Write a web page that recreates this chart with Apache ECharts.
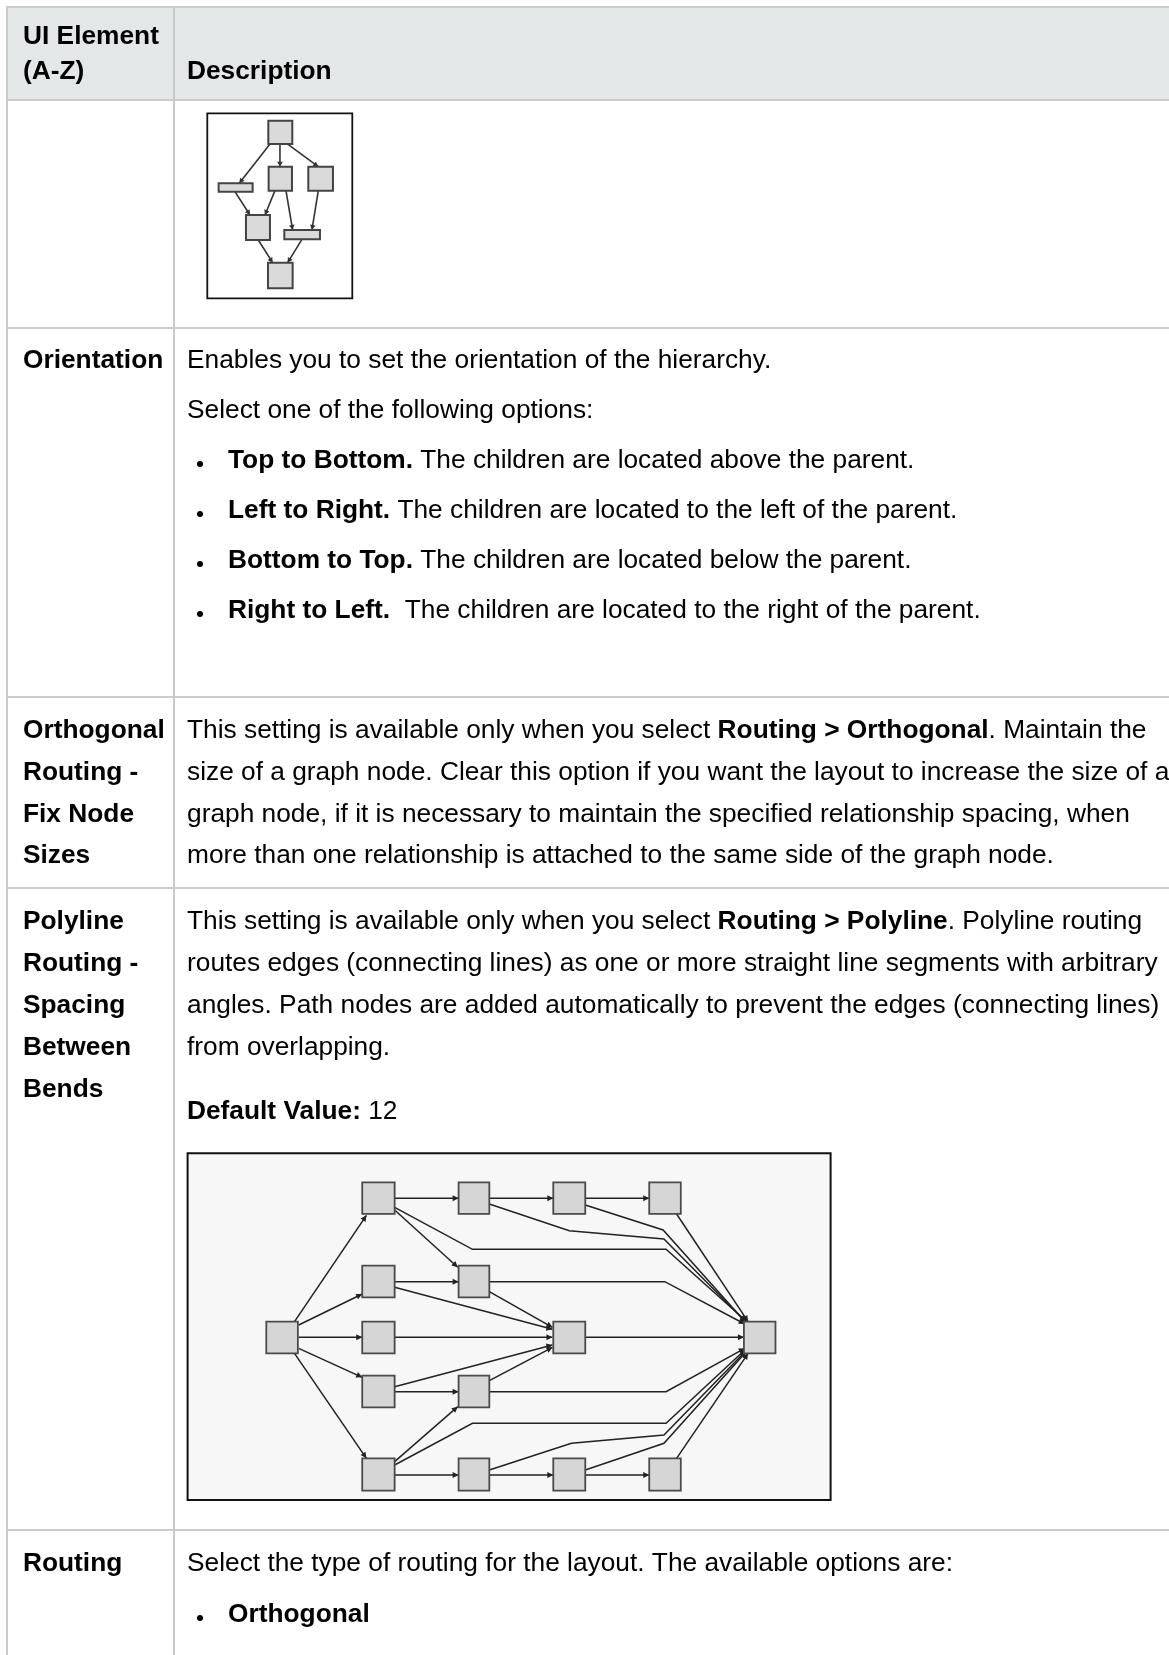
<!DOCTYPE html>
<html><head><meta charset="utf-8">
<script src="https://cdn.jsdelivr.net/npm/echarts@6/dist/echarts.min.js"></script>
<style>html,body{margin:0;padding:0;background:#fff}#c{width:1169px;height:1655px}</style>
</head><body><div id="c"></div>
<script>
// ---------------- content ----------------
const colHeaders = ['UI Element', '(A-Z)', 'Description'];
const rowLabels = [
  ['Orientation'],
  ['Orthogonal', 'Routing -', 'Fix Node', 'Sizes'],
  ['Polyline', 'Routing -', 'Spacing', 'Between', 'Bends'],
  ['Routing']
];
const orientationParas = [
  'Enables you to set the orientation of the hierarchy.',
  'Select one of the following options:'
];
const orientationBullets = [
  ['Top to Bottom.', ' The children are located above the parent.'],
  ['Left to Right.', ' The children are located to the left of the parent.'],
  ['Bottom to Top.', ' The children are located below the parent.'],
  ['Right to Left.', '  The children are located to the right of the parent.']
];
const orthogonalLines = [
  [['r', 'This setting is available only when you select '], ['b', 'Routing > Orthogonal'], ['r', '. Maintain the']],
  [['r', 'size of a graph node. Clear this option if you want the layout to increase the size of a']],
  [['r', 'graph node, if it is necessary to maintain the specified relationship spacing, when']],
  [['r', 'more than one relationship is attached to the same side of the graph node.']]
];
const polylineLines = [
  [['r', 'This setting is available only when you select '], ['b', 'Routing > Polyline'], ['r', '. Polyline routing']],
  [['r', 'routes edges (connecting lines) as one or more straight line segments with arbitrary']],
  [['r', 'angles. Path nodes are added automatically to prevent the edges (connecting lines)']],
  [['r', 'from overlapping.']]
];
const defaultValueLine = [['b', 'Default Value:'], ['r', ' 12']];
const routingParas = ['Select the type of routing for the layout. The available options are:'];
const routingBullets = ['Orthogonal'];

// ---------------- diagram 1 (hierarchy, diagram units) ----------------
// nodes: [x0, y0, x1, y1]
const hierNodes = [
  [235, 62, 307, 132],
  [86, 250, 188, 275],
  [236, 200, 306, 272],
  [355, 200, 429, 272],
  [168, 345, 240, 420],
  [283, 390, 390, 418],
  [234, 488, 308, 565]
];
const hierEdges = [
  [[240, 132], [148, 250]],
  [[270, 132], [270, 200]],
  [[292, 132], [385, 200]],
  [[135, 275], [180, 345]],
  [[255, 272], [225, 345]],
  [[288, 272], [308, 390]],
  [[385, 272], [366, 390]],
  [[205, 420], [248, 488]],
  [[336, 418], [293, 488]]
];

// ---------------- diagram 2 (polyline routing, diagram units) ----------------
const polyNodes = [
  [205, 545, 280, 640],
  [433, 127, 510, 222], [433, 377, 510, 472], [433, 545, 510, 640], [433, 707, 510, 802], [433, 955, 510, 1052],
  [662, 127, 735, 222], [662, 377, 735, 472], [662, 707, 735, 802], [662, 955, 735, 1052],
  [887, 127, 963, 222], [887, 545, 963, 640], [887, 955, 963, 1052],
  [1115, 127, 1190, 222], [1115, 955, 1190, 1052],
  [1340, 545, 1415, 640]
];
const polyEdges = [
  [[272, 545], [443, 226]],
  [[282, 555], [433, 462]],
  [[282, 592], [433, 592]],
  [[282, 625], [433, 712]],
  [[272, 640], [443, 955]],
  [[510, 175], [662, 175]],
  [[510, 210], [660, 382]],
  [[510, 202], [695, 328], [1155, 328], [1345, 543]],
  [[735, 175], [887, 175]],
  [[735, 192], [925, 272], [1150, 297], [1345, 546]],
  [[963, 175], [1115, 175]],
  [[963, 195], [1148, 270], [1345, 548]],
  [[1180, 222], [1350, 545]],
  [[510, 425], [662, 425]],
  [[510, 442], [885, 568]],
  [[735, 425], [1152, 425], [1342, 552]],
  [[735, 455], [885, 562]],
  [[510, 592], [885, 592]],
  [[963, 592], [1340, 592]],
  [[510, 755], [662, 755]],
  [[510, 740], [885, 615]],
  [[735, 722], [885, 622]],
  [[735, 755], [1155, 755], [1342, 625]],
  [[510, 965], [660, 800]],
  [[510, 975], [695, 850], [1155, 850], [1344, 628]],
  [[510, 1005], [662, 1005]],
  [[735, 1005], [887, 1005]],
  [[735, 990], [930, 910], [1150, 885], [1345, 632]],
  [[963, 1005], [1115, 1005]],
  [[963, 990], [1150, 910], [1345, 636]],
  [[1180, 955], [1350, 640]]
];

// ---------------- layout ----------------
const FONT = '"Liberation Sans", Arial, Helvetica, sans-serif';
const FS = 26.3;
const TXT = '#000';
const BORDER = '#cbcbcb';
const X0 = 7, XDIV = 174, XR = 1169, YB = 1655;
const rowTops = [7, 100, 328, 697, 888, 1530];
const LX = 23, DX = 187, BULX = 200, BTX = 228;

const rich = {
  b: { fontFamily: FONT, fontSize: FS, fontWeight: 'bold', fill: TXT, lineHeight: 30 },
  r: { fontFamily: FONT, fontSize: FS, fontWeight: 'normal', fill: TXT, lineHeight: 30 }
};
const gfx = [];
function txt(x, y, text, bold) {
  gfx.push({ type: 'text', x: x, y: y, z: 10, silent: true,
    style: { text: text, fontFamily: FONT, fontSize: FS, fontWeight: bold ? 'bold' : 'normal', fill: TXT,
      align: 'left', verticalAlign: 'middle', lineHeight: 30 } });
}
function richTxt(x, y, segs) {
  gfx.push({ type: 'text', x: x, y: y, z: 10, silent: true,
    style: { text: segs.map(s => '{' + s[0] + '|' + s[1] + '}').join(''), rich: rich,
      align: 'left', verticalAlign: 'middle', lineHeight: 30 } });
}
function bullet(y) {
  gfx.push({ type: 'circle', z: 10, silent: true, shape: { cx: BULX, cy: y + 3, r: 3 }, style: { fill: TXT } });
}

// header background
gfx.push({ type: 'rect', z: 1, silent: true, shape: { x: X0, y: rowTops[0], width: XR - X0, height: rowTops[1] - rowTops[0] }, style: { fill: '#e3e7e8' } });
// horizontal borders
rowTops.forEach(y => gfx.push({ type: 'line', z: 2, silent: true, shape: { x1: X0 - 1, y1: y, x2: XR, y2: y }, style: { stroke: BORDER, lineWidth: 2 } }));
// vertical borders
[X0, XDIV].forEach(x => gfx.push({ type: 'line', z: 2, silent: true, shape: { x1: x, y1: rowTops[0] - 1, x2: x, y2: YB }, style: { stroke: BORDER, lineWidth: 2 } }));

// header texts
txt(LX, 36.5, colHeaders[0], true);
txt(LX, 72, colHeaders[1], true);
txt(DX, 72, colHeaders[2], true);

// Orientation row
txt(LX, 361, rowLabels[0][0], true);
orientationParas.forEach((t, i) => txt(DX, 361 + 50 * i, t, false));
orientationBullets.forEach((b, i) => { const y = 461 + 50 * i; bullet(y); richTxt(BTX, y, [['b', b[0]], ['r', b[1]]]); });

// Orthogonal row
rowLabels[1].forEach((t, i) => txt(LX, 731 + 41.7 * i, t, true));
orthogonalLines.forEach((s, i) => richTxt(DX, 731 + 41.7 * i, s));

// Polyline row
rowLabels[2].forEach((t, i) => txt(LX, 922 + 41.9 * i, t, true));
polylineLines.forEach((s, i) => richTxt(DX, 922 + 41.9 * i, s));
richTxt(DX, 1112, defaultValueLine);

// Routing row
txt(LX, 1564, rowLabels[3][0], true);
routingParas.forEach((t, i) => txt(DX, 1564 + 50 * i, t, false));
routingBullets.forEach((t, i) => { const y = 1615 + 50 * i; bullet(y); txt(BTX, y, t, true); });

// ---------------- series builders ----------------
function nodeSeries(idx, nodes, fill, stroke, lw) {
  return {
    type: 'custom', xAxisIndex: idx, yAxisIndex: idx, silent: true, z: 6, data: nodes,
    renderItem: function (params, api) {
      const p0 = api.coord([api.value(0), api.value(1)]);
      const p1 = api.coord([api.value(2), api.value(3)]);
      return { type: 'rect',
        shape: { x: Math.min(p0[0], p1[0]), y: Math.min(p0[1], p1[1]), width: Math.abs(p1[0] - p0[0]), height: Math.abs(p1[1] - p0[1]) },
        style: { fill: fill, stroke: stroke, lineWidth: lw } };
    }
  };
}
function edgeSeries(idx, edges, color, lw, alen, awid) {
  return {
    type: 'custom', xAxisIndex: idx, yAxisIndex: idx, silent: true, z: 5,
    data: edges.map((e, i) => [e[e.length - 1][0], e[e.length - 1][1], i]),
    renderItem: function (params, api) {
      const e = edges[api.value(2)];
      const pts = e.map(p => api.coord(p));
      const a = pts[pts.length - 2], b = pts[pts.length - 1];
      const dx = b[0] - a[0], dy = b[1] - a[1], L = Math.sqrt(dx * dx + dy * dy) || 1;
      const ux = dx / L, uy = dy / L, nx = -uy, ny = ux;
      const bx = b[0] - ux * alen, by = b[1] - uy * alen;
      return { type: 'group', children: [
        { type: 'polyline', shape: { points: pts }, style: { stroke: color, lineWidth: lw, fill: null } },
        { type: 'polygon', shape: { points: [[b[0], b[1]], [bx + nx * awid, by + ny * awid], [bx - nx * awid, by - ny * awid]] }, style: { fill: color } }
      ] };
    }
  };
}

const chart = echarts.init(document.getElementById('c'), null, { renderer: 'canvas' });
chart.setOption({
  animation: false,
  backgroundColor: '#ffffff',
  grid: [
    { left: 207.3, top: 113.3, width: 145, height: 185, show: true, backgroundColor: '#ffffff', borderColor: '#111', borderWidth: 1.8 },
    { left: 187.6, top: 1153.3, width: 643, height: 346.7, show: true, backgroundColor: '#f7f7f7', borderColor: '#111', borderWidth: 2 }
  ],
  xAxis: [
    { gridIndex: 0, type: 'value', min: 52, max: 487, show: false },
    { gridIndex: 1, type: 'value', min: 18, max: 1546, show: false }
  ],
  yAxis: [
    { gridIndex: 0, type: 'value', min: 40, max: 595, inverse: true, show: false },
    { gridIndex: 1, type: 'value', min: 40, max: 1080, inverse: true, show: false }
  ],
  graphic: { elements: gfx },
  series: [
    edgeSeries(0, hierEdges, '#333', 1.6, 5, 2.8),
    nodeSeries(0, hierNodes, '#dadada', '#444', 2),
    edgeSeries(1, polyEdges, '#222', 1.5, 6, 3),
    nodeSeries(1, polyNodes, '#d6d6d6', '#4a4a4a', 1.8)
  ]
});
</script></body></html>
